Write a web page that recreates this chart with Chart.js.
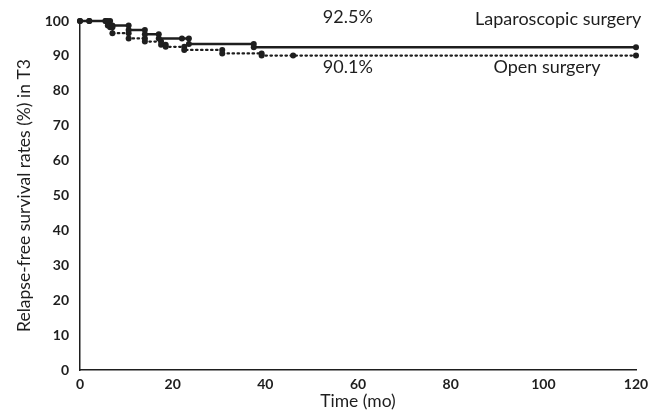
<!DOCTYPE html>
<html>
<head>
<meta charset="utf-8">
<script src="https://cdn.jsdelivr.net/npm/chart.js@4/dist/chart.umd.min.js"></script>
<style>
  html, body { margin: 0; padding: 0; background: #fff; }
  canvas { display: block; }
</style>
</head>
<body>
<canvas id="km" width="660" height="414"></canvas>
<script>
// Kaplan-Meier data: time (months) and survival (%) after each time point
const lapTime = [0, 2, 5.5, 6, 7, 10.5, 14, 17, 22, 23.5, 37.5, 120];
const lapSurv = [100, 100, 100, 98.7, 98.7, 97.4, 96.2, 95.0, 95.0, 93.4, 92.5, 92.5];

const openTime = [0, 2, 5.5, 6.5, 7, 10.5, 14, 17.5, 18.5, 22.5, 30.7, 39.2, 46, 120];
const openSurv = [100, 100, 100, 98.2, 96.5, 95.0, 94.1, 93.2, 92.6, 91.7, 90.7, 90.1, 90.1, 90.1];

const xTicks = [0, 20, 40, 60, 80, 100, 120];
const yTicks = [0, 10, 20, 30, 40, 50, 60, 70, 80, 90, 100];

const notes = [
    { text: '92.5%', x: 57.8, y: 101.1 },
    { text: 'Laparoscopic surgery', x: 103.2, y: 100.6 },
    { text: '90.1%', x: 57.8, y: 86.8 },
    { text: 'Open surgery', x: 100.8, y: 86.8 }
];

const FONT = 'Lato, "Open Sans", sans-serif';
const INK = '#1e1e1e';

// turn time/survival arrays into step corner points (Excel style)
function stepPoints(times, surv) {
    const pts = [];
    times.forEach((t, i) => {
        if (i > 0 && surv[i] !== surv[i - 1]) {
            pts.push({ x: t, y: surv[i - 1] });
        }
        pts.push({ x: t, y: surv[i] });
    });
    return pts;
}

const notesPlugin = {
    id: 'notes',
    afterDraw(chart) {
        const ctx = chart.ctx;
        const xs = chart.scales.x;
        const ys = chart.scales.y;
        ctx.save();
        ctx.fillStyle = INK;
        ctx.font = '18px ' + FONT;
        ctx.textAlign = 'center';
        ctx.textBaseline = 'middle';
        notes.forEach(n => {
            ctx.fillText(n.text, xs.getPixelForValue(n.x), ys.getPixelForValue(n.y));
        });
        ctx.restore();
    }
};

new Chart(document.getElementById('km').getContext('2d'), {
    type: 'line',
    data: {
        datasets: [
            {
                label: 'Laparoscopic surgery',
                data: stepPoints(lapTime, lapSurv),
                borderColor: INK,
                backgroundColor: INK,
                borderWidth: 2.6,
                pointRadius: 3,
                pointBorderWidth: 0,
                tension: 0,
                clip: false
            },
            {
                label: 'Open surgery',
                data: stepPoints(openTime, openSurv),
                borderColor: INK,
                backgroundColor: INK,
                borderWidth: 2.2,
                borderDash: [1.5, 3.5],
                borderCapStyle: 'round',
                pointRadius: 3,
                pointBorderWidth: 0,
                tension: 0,
                clip: false
            }
        ]
    },
    options: {
        responsive: false,
        animation: false,
        layout: { padding: { top: 21, right: 24, left: 0, bottom: 0 } },
        plugins: {
            legend: { display: false },
            tooltip: { enabled: false }
        },
        scales: {
            x: {
                type: 'linear',
                min: 0,
                max: 120,
                afterBuildTicks: s => { s.ticks = xTicks.map(v => ({ value: v })); },
                afterFit: s => { s.height = 44; },
                grid: { display: false, drawTicks: false },
                border: { display: true, color: INK, width: 1.5 },
                ticks: { color: INK, padding: 6, font: { family: FONT, size: 14, weight: 'bold' }, maxRotation: 0 },
                title: { display: true, text: 'Time (mo)', color: INK, padding: { top: 0, bottom: 2 }, font: { family: FONT, size: 17.5 } }
            },
            y: {
                min: 0,
                max: 100,
                afterBuildTicks: s => { s.ticks = yTicks.map(v => ({ value: v })); },
                afterFit: s => { s.width = 80; },
                grid: { display: false, drawTicks: false },
                border: { display: true, color: INK, width: 1.5 },
                ticks: { color: INK, padding: 11, font: { family: FONT, size: 14, weight: 'bold' } },
                title: { display: true, text: 'Relapse-free survival rates (%) in T3', color: INK, padding: { top: 14, bottom: 0 }, font: { family: FONT, size: 17.5 } }
            }
        }
    },
    plugins: [notesPlugin]
});
</script>
</body>
</html>
